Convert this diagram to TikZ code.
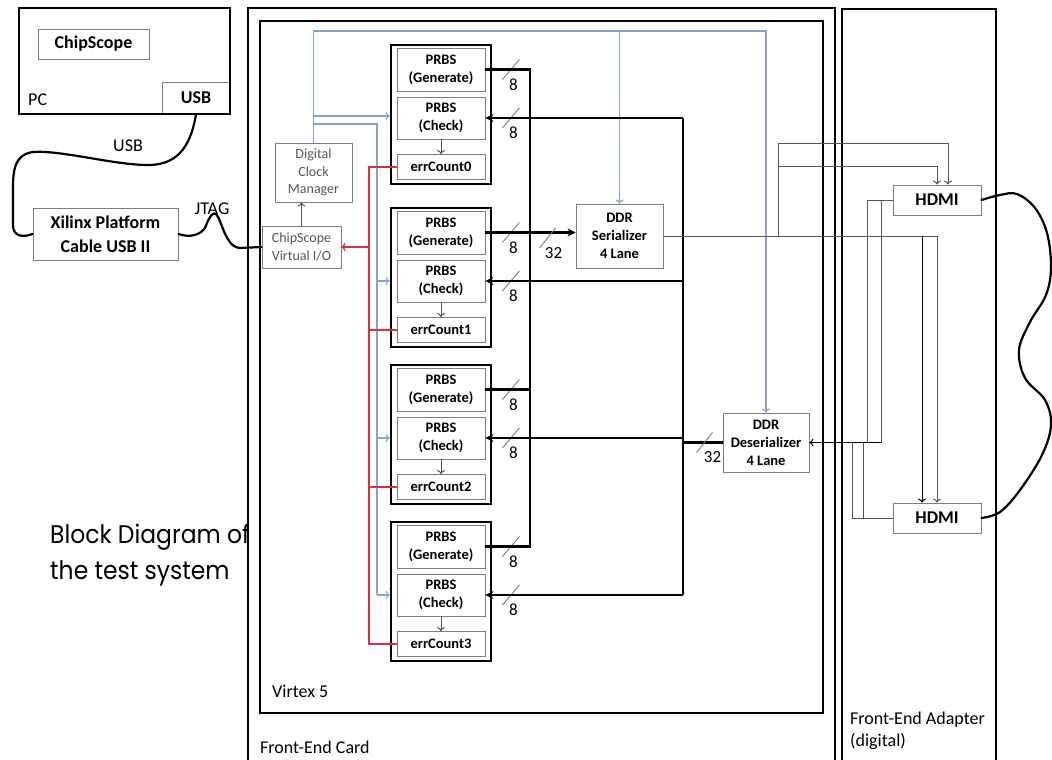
\documentclass[tikz,border=0pt]{standalone}
\usepackage{fontspec}
\setmainfont{Carlito}
\newfontfamily\titlefont[FakeStretch=0.92]{Poppins}
\usetikzlibrary{calc,arrows.meta}
\definecolor{blue1}{RGB}{130,165,205}
\definecolor{red1}{RGB}{225,45,55}
\definecolor{gray1}{RGB}{125,125,125}
\definecolor{gray2}{RGB}{85,85,85}

\begin{document}
\begin{tikzpicture}[x=1pt, y=-1pt,
  box/.style={draw=gray1, line width=0.9pt, inner sep=0pt, align=center,
    font=\fontsize{14.5}{18}\selectfont\bfseries},
  bigbox/.style={box, font=\fontsize{18}{24}\selectfont\bfseries},
  softbox/.style={draw=gray1, line width=0.9pt, inner sep=0pt, align=center,
    text=gray2, font=\fontsize{14}{17.5}\selectfont},
  frame/.style={draw, line width=2.5pt, inner sep=0pt},
  lbl/.style={inner sep=0pt, anchor=west, align=left, font=\fontsize{18}{22}\selectfont},
  num/.style={inner sep=0pt, font=\fontsize{17}{17}\selectfont},
  bus/.style={line width=2.5pt},
  busarr/.style={bus, -{Stealth[length=8pt, width=8pt]}},
  wire/.style={line width=1pt, draw=gray2},
  wirearr/.style={wire, -{To[length=4pt, width=8pt]}},
  clk/.style={line width=1.2pt, draw=blue1},
  clkarr/.style={clk, -{To[length=4pt, width=8pt]}},
  errline/.style={line width=1.3pt, draw=red1},
  errarr/.style={errline, -{To[length=4pt, width=8pt]}},
  slash/.style={line width=0.9pt, draw=gray1},
  cable/.style={line width=2.2pt, line cap=round}]

\clip (0,0) rectangle (1052,760);
\fill[white] (0,0) rectangle (1052,760);

% ----- outer frames -----
\node[frame, minimum width=587pt, minimum height=772pt] (card) at (541.5,394) {};
\node[frame, minimum width=563pt, minimum height=692pt] (virtex) at (541.5,367) {};
\node[frame, line width=2pt, minimum width=154pt, minimum height=771pt] (adapter) at (919,394.5) {};
\node[lbl] (cardlbl) at (260,747) {Front-End Card};
\node[lbl] (virtexlbl) at (272,691) {Virtex 5};
\node[lbl] (adapterlbl) at (850,731) {Front-End Adapter\\(digital)};

% ----- PC side -----
\node[bigbox, minimum width=68pt, minimum height=32pt] (usb) at (196,98) {USB};
\node[frame, minimum width=211pt, minimum height=106pt] (pc) at (124.5,61) {};
\node[bigbox, minimum width=111pt, minimum height=30pt] (chipscope) at (93.5,44) {ChipScope};
\node[lbl] (pclbl) at (28,100) {PC};
\node[bigbox, minimum width=145pt, minimum height=52pt] (xilinx) at (105.5,234) {Xilinx Platform\\Cable USB II};
\node[lbl, anchor=center] (usblbl) at (128,146) {USB};
\node[lbl, anchor=center] (jtaglbl) at (212,209) {JTAG};

% ----- clock manager and VIO -----
\node[softbox, minimum width=77pt, minimum height=59pt] (dcm) at (313.5,172.5) {Digital\\Clock\\Manager};
\node[softbox, minimum width=79pt, minimum height=42pt] (vio) at (301.5,247) {ChipScope\\Virtual I/O};
\draw[wirearr] (vio.north) -- (vio.north |- dcm.south);

% ----- DDR blocks and HDMI -----
\node[box, minimum width=87pt, minimum height=64pt] (ser) at (619.5,236) {DDR\\Serializer\\4 Lane};
\node[box, minimum width=86pt, minimum height=59pt] (des) at (766,442.5) {DDR\\Deserializer\\4 Lane};
\node[bigbox, minimum width=88pt, minimum height=30pt] (hdmiA) at (937,200) {HDMI};
\node[bigbox, minimum width=88pt, minimum height=30pt] (hdmiB) at (937,518) {HDMI};

% ----- PRBS groups -----
\foreach \i/\T in {0/45,1/208,2/365,3/522}{
  \node[frame, minimum width=100pt, minimum height=139pt] (grp\i) at (441,\T+69.5) {};
  \node[box, minimum width=88pt, minimum height=43pt] (gen\i) at (441,\T+24.5) {PRBS\\(Generate)};
  \node[box, minimum width=88pt, minimum height=42pt] (chk\i) at (441,\T+73) {PRBS\\(Check)};
  \node[box, minimum width=88pt, minimum height=25pt] (err\i) at (441,\T+122) {errCount\i};
  \draw[wirearr] (chk\i.south) -- (err\i.north);
  % bus width marks
  \draw[slash] ($(gen\i.east)+(17,10)$) -- ++(17,-20);
  \node[num] (gw\i) at ($(gen\i.east)+(28,15)$) {8};
  \draw[slash] ($(chk\i.east)+(17,10)$) -- ++(17,-20);
  \node[num] (cw\i) at ($(chk\i.east)+(28,15)$) {8};
}

% ----- clock distribution (blue) -----
\coordinate (clktop) at (313,31);
\coordinate (clkbus) at (377,124);
\draw[clkarr] (dcm.north) -- (dcm.north |- clktop) -| (des.north);
\draw[clkarr] (ser.north |- clktop) -- (ser.north);
\draw[clkarr] (dcm.north |- 0,116) -- (grp0.west |- 0,116);
\draw[clk] (dcm.north |- clkbus) -- (clkbus) -- (clkbus |- chk3.west);
\foreach \i in {1,2,3}
  \draw[clkarr] (clkbus |- chk\i.west) -- (grp\i.west |- chk\i.west);

% ----- error counters (red) -----
\coordinate (errbus) at (369,0);
\draw[errline] (err0.west) -- (err0.west -| errbus) -- (err3.west -| errbus) -- (err3.west);
\foreach \i in {1,2}
  \draw[errline] (err\i.west) -- (err\i.west -| errbus);
\draw[errarr] (errbus |- vio.east) -- (vio.east);

% ----- data buses -----
\coordinate (genbus) at (530,0);
\coordinate (chkbus) at (683,0);
\draw[bus] (gen0.east) -- (gen0.east -| genbus) -- (gen3.east -| genbus) -- (gen3.east);
\draw[bus] (gen2.east) -- (gen2.east -| genbus);
\draw[busarr] (gen1.east) -- (gen1.east -| ser.west);
\draw[bus] (chkbus |- chk0.east) -- (chkbus |- chk3.east);
\foreach \i in {0,...,3}
  \draw[busarr] (chkbus |- chk\i.east) -- (chk\i.east);
\draw[bus] (des.west) -- (des.west -| chkbus);
\draw[slash] ($(ser.west)+(-36,12)$) -- ++(16,-20);
\node[num] (sw) at ($(ser.west)+(-22,17)$) {32};
\draw[slash] ($(des.west)+(-26,10)$) -- ++(16,-20);
\node[num] (dw) at ($(des.west)+(-10,15)$) {32};

% ----- HDMI links -----
\coordinate (split) at (778,0);
\coordinate (txA1) at (948,143);
\coordinate (txA2) at (937,166);
\coordinate (txB2) at (922,0);
\draw[wirearr] (ser.east) -| (hdmiB.north);
\draw[wirearr, draw=black] (ser.east -| txB2) -- (txB2 |- hdmiB.north);
\draw[wirearr] (ser.east -| split) |- (txA1) -- (txA1 |- hdmiA.north);
\draw[wirearr] (ser.east -| split) |- (txA2) -- (hdmiA.north);
\coordinate (rxA1) at (881,0);
\coordinate (rxA2) at (867,0);
\coordinate (rxB1) at (863,0);
\coordinate (rxB2) at (852,0);
\draw[wire] (hdmiA.west) -| (rxA1 |- des.east);
\draw[wire] (hdmiA.west -| rxA1) -| (rxA2 |- des.east);
\draw[wire] (hdmiB.west) -| (rxB1 |- des.east);
\draw[wire] (hdmiB.west -| rxB1) -| (rxB2 |- des.east);
\draw[wirearr, draw=black] (rxA1 |- des.east) -- (des.east);

% ----- cables -----
\draw[cable] (usb.south) .. controls (190,150) and (175,166) .. (145,165)
  .. controls (110,164) and (60,150) .. (33,152)
  .. controls (12,155) and (13,175) .. (13,195) -- (13,225)
  .. controls (13,236) and (22,238) .. (xilinx.west);
\draw[cable] (xilinx.east) .. controls (190,238) and (200,235) .. (205,228)
  .. controls (210,215) and (213,212) .. (216,214)
  .. controls (222,220) and (225,247) .. (240,248) -- (vio.west);
\draw[cable] plot[smooth, tension=0.6] coordinates {(hdmiA.east) (1000,195) (1017,194)
  (1035,208) (1047,233) (1051,267) (1046,295) (1030,322) (1019,350) (1025,378)
  (1045,400) (1051,425) (1042,455) (1020,490) (1000,512) (hdmiB.east)};

% ----- caption -----
\node[inner sep=0pt, anchor=west, align=left, font=\titlefont\fontsize{25.5}{36}\selectfont]
  (title) at (50,555) {Block Diagram of\\the test system};

\end{tikzpicture}
\end{document}
